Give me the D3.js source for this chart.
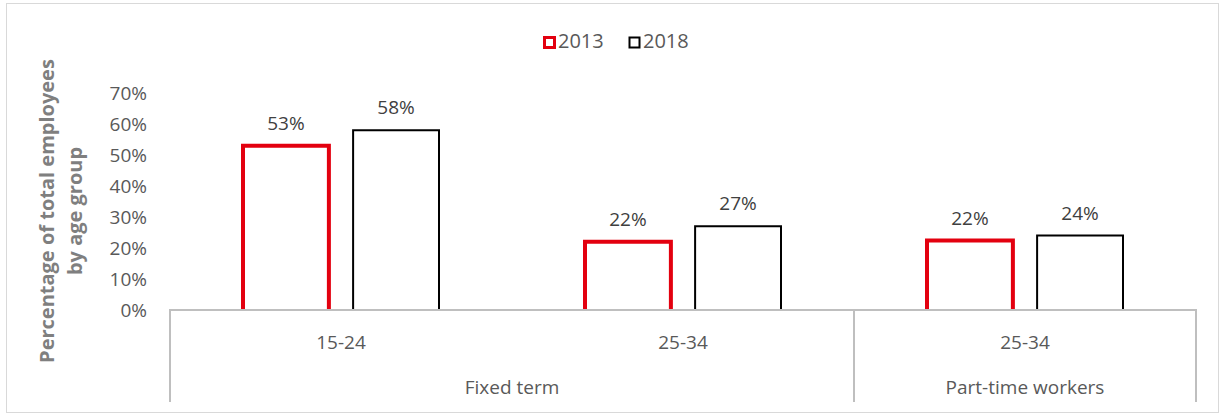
<!DOCTYPE html>
<html><head><meta charset="utf-8">
<script src="https://cdn.jsdelivr.net/npm/d3@7"></script>
<style>body{margin:0;background:#fff;} svg{display:block;font-family:"Open Sans","Noto Sans",sans-serif;}</style>
</head><body>
<svg id="c" width="1225" height="416"></svg>
<script>
const categories = ["15-24", "25-34", "25-34"];
const groups = ["Fixed term", "Fixed term", "Part-time workers"];
const groupLabels = ["Fixed term", "Part-time workers"];
const seriesNames = ["2013", "2018"];
const values2013 = [0.53, 0.22, 0.224];
const values2018 = [0.58, 0.27, 0.24];
const yTicks = [0, 0.1, 0.2, 0.3, 0.4, 0.5, 0.6, 0.7];
const colors = ["#e3000f", "#000000"];
const strokeW = [4, 2];

(function () {
const svg = d3.select("#c");
svg.append("rect").attr("x", 6.5).attr("y", 3.5).attr("width", 1212).attr("height", 409)
  .attr("fill", "#fff").attr("stroke", "#d9d9d9");

const left = 170, right = 1196, axisY = 310, plotTop = 93;
const FS = 19;
const x0 = d3.scaleBand().domain(d3.range(categories.length)).range([left, right]).padding(0);
const x1 = d3.scaleBand().domain(seriesNames).range([-98, 98]).paddingInner(0.22);
const y = d3.scaleLinear().domain([0, 0.7]).range([axisY, plotTop]);

// y tick labels
const yAxis = d3.axisLeft(y).tickValues(yTicks).tickFormat(d3.format(".0%")).tickSize(0).tickPadding(0);
const ya = svg.append("g").attr("transform", `translate(${left - 23},0)`).call(yAxis);
ya.select(".domain").remove();
ya.selectAll("text").attr("fill", "#595959").style("font-size", FS + "px")
  .style("font-family", "'Open Sans',sans-serif").attr("dy", "0.36em");

// axis title
const title = svg.append("text").attr("transform", "translate(0,211) rotate(-90)")
  .attr("text-anchor", "middle").attr("fill", "#7f7f7f").style("font-size", "20px").style("font-weight", "bold");
title.append("tspan").attr("x", 0).attr("y", 54).text("Percentage of total employees");
title.append("tspan").attr("x", 0).attr("y", 82).text("by age group");

// bars (open at the bottom; the axis line covers the base)
const data = categories.map((c, i) => ({i, vals: [values2013[i], values2018[i]]}));
const g = svg.append("g");
data.forEach(d => {
  d.vals.forEach((v, s) => {
    const cx = x0(d.i) + x0.bandwidth() / 2;
    const bx = cx + x1(seriesNames[s]), bw = x1.bandwidth();
    const p = d3.path();
    p.moveTo(bx, y(0)); p.lineTo(bx, y(v)); p.lineTo(bx + bw, y(v)); p.lineTo(bx + bw, y(0));
    g.append("path").attr("d", p.toString())
      .attr("fill", "none").attr("stroke", colors[s]).attr("stroke-width", strokeW[s])
      .attr("stroke-linejoin", "miter");
    g.append("text")
      .attr("x", bx + bw / 2)
      .attr("y", y(v) - 16)
      .attr("text-anchor", "middle").attr("fill", "#404040").style("font-size", FS + "px")
      .text(d3.format(".0%")(v));
  });
});

// category axis
const ax = svg.append("g").attr("stroke", "#bfbfbf").attr("stroke-width", 2);
ax.append("line").attr("x1", left - 1).attr("x2", right + 1).attr("y1", axisY).attr("y2", axisY);
const dividers = [left, x0(2), right];
dividers.forEach(xv => ax.append("line").attr("x1", xv).attr("x2", xv).attr("y1", axisY).attr("y2", 402));

categories.forEach((c, i) => {
  svg.append("text").attr("x", x0(i) + x0.bandwidth() / 2).attr("y", 349)
    .attr("text-anchor", "middle").attr("fill", "#595959").style("font-size", FS + "px").text(c);
});
const gx = [[left, x0(2)], [x0(2), right]];
groupLabels.forEach((gl, i) => {
  svg.append("text").attr("x", (gx[i][0] + gx[i][1]) / 2).attr("y", 394)
    .attr("text-anchor", "middle").attr("fill", "#595959").style("font-size", FS + "px").text(gl);
});

// legend
const legX = [543, 628];
seriesNames.forEach((s, i) => {
  svg.append("rect").attr("x", legX[i] + 1.5).attr("y", 37.5).attr("width", 10).attr("height", 10)
    .attr("fill", "#fff").attr("stroke", colors[i]).attr("stroke-width", i === 0 ? 3 : 2);
  svg.append("text").attr("x", legX[i] + 15).attr("y", 48).attr("fill", "#595959")
    .style("font-size", "20px").text(s);
});
})();
</script>
</body></html>
